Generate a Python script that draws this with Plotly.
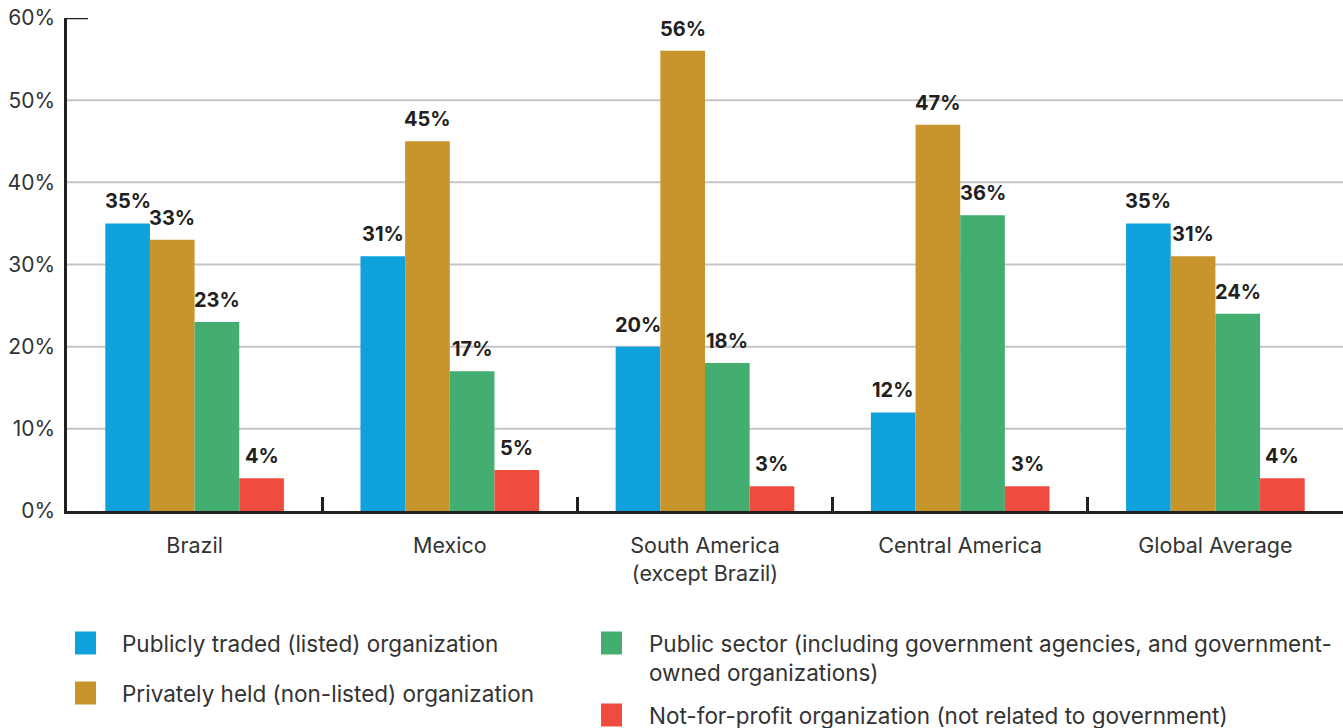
import plotly.graph_objects as go

# Chart data
categories = ["Brazil", "Mexico", "South America<br>(except Brazil)", "Central America", "Global Average"]
series_names = [
    "Publicly traded (listed) organization",
    "Privately held (non-listed) organization",
    "Public sector (including government agencies, and government-<br>owned organizations)",
    "Not-for-profit organization (not related to government)",
]
publicly_traded = [35, 31, 20, 12, 35]
privately_held = [33, 45, 56, 47, 31]
public_sector = [23, 17, 18, 36, 24]
not_for_profit = [4, 5, 3, 3, 4]
y_tick_values = [0, 10, 20, 30, 40, 50, 60]
y_tick_labels = ["0%", "10%", "20%", "30%", "40%", "50%", "60%"]

series_values = [publicly_traded, privately_held, public_sector, not_for_profit]
colors = ["#0ea1dc", "#c8952c", "#44ae70", "#ef4c3f"]

FONT = "Inter"
TEXT = "#231f20"
LEGEND_TEXT = "#333333"
GRID = "#c5c5c9"
BAR_GAP = 0.3
n_series = len(series_values)
bar_w = (1 - BAR_GAP) / n_series

W, H = 1343, 728
M_L, M_R, M_T, M_B = 67, 0, 18, 217
plot_w = W - M_L - M_R
plot_h = H - M_T - M_B


def px_to_paper_x(px):
    return (px - M_L) / plot_w


def px_to_paper_y(py):
    return (H - M_B - py) / plot_h


fig = go.Figure()
for name, vals, col in zip(series_names, series_values, colors):
    fig.add_trace(go.Bar(
        x=categories, y=vals, name=name, marker=dict(color=col, line=dict(width=0)),
        showlegend=False, hoverinfo="skip",
    ))

# value labels above each bar
annotations = []
for i, vals in enumerate(series_values):
    off = (i - (n_series - 1) / 2) * bar_w
    for j, v in enumerate(vals):
        annotations.append(dict(
            x=j + off, y=v, xref="x", yref="y", text=f"{v}%", showarrow=False,
            yanchor="bottom", yshift=8,
            font=dict(family=FONT, size=20, color=TEXT, weight="bold"),
        ))

# horizontal grid lines (top edge carries only a short axis tick)
shapes = []
for t in y_tick_values[1:-1]:
    shapes.append(dict(type="line", xref="paper", yref="y", x0=0, x1=1, y0=t, y1=t,
                       line=dict(color=GRID, width=2), layer="below"))
shapes.append(dict(type="line", xref="paper", yref="y", x0=0, x1=px_to_paper_x(88),
                   y0=y_tick_values[-1], y1=y_tick_values[-1], line=dict(color=TEXT, width=2.5)))

# two-column key below the chart: (swatch left, swatch centre y, text left, text centre y)
KEY_SIZE = 22.5
key_layout = [
    (75, 643, 120, 643),
    (75, 693, 120, 693),
    (601, 643, 647, 643 + KEY_SIZE * 1.3 / 2),
    (601, 715, 647, 715),
]
SW = 21
for (sx, sy, tx, ty), name, col in zip(key_layout, series_names, colors):
    shapes.append(dict(
        type="rect", xref="paper", yref="paper",
        x0=px_to_paper_x(sx), x1=px_to_paper_x(sx + SW),
        y0=px_to_paper_y(sy + 11.5), y1=px_to_paper_y(sy - 11.5),
        fillcolor=col, line=dict(width=0),
    ))
    annotations.append(dict(
        x=px_to_paper_x(tx), y=px_to_paper_y(ty), xref="paper", yref="paper",
        text=name, showarrow=False, xanchor="left", yanchor="middle", align="left",
        font=dict(family=FONT, size=KEY_SIZE, color=LEGEND_TEXT),
    ))

fig.update_layout(
    width=W, height=H,
    margin=dict(l=M_L, r=M_R, t=M_T, b=M_B, autoexpand=False),
    paper_bgcolor="white", plot_bgcolor="white",
    barmode="group", bargap=BAR_GAP, bargroupgap=0,
    font=dict(family=FONT, size=20, color=TEXT),
    annotations=annotations, shapes=shapes, showlegend=False,
    xaxis=dict(
        type="category", showgrid=False, showline=True, linecolor=TEXT, linewidth=2.5,
        ticks="inside", tickson="boundaries", ticklen=14, tickwidth=2.5, tickcolor=TEXT,
        ticklabelstandoff=13, tickangle=0, tickfont=dict(family=FONT, size=21.5, color="#333333"),
        range=[-0.5, 4.5],
    ),
    yaxis=dict(
        range=[0, 60], tickvals=y_tick_values, ticktext=y_tick_labels,
        showgrid=False, zeroline=False, showline=True, linecolor=TEXT, linewidth=2.5,
        ticks="", ticklabelstandoff=5, tickfont=dict(family=FONT, size=21, color="#333333"),
    ),
)

fig.write_html("out.html")
